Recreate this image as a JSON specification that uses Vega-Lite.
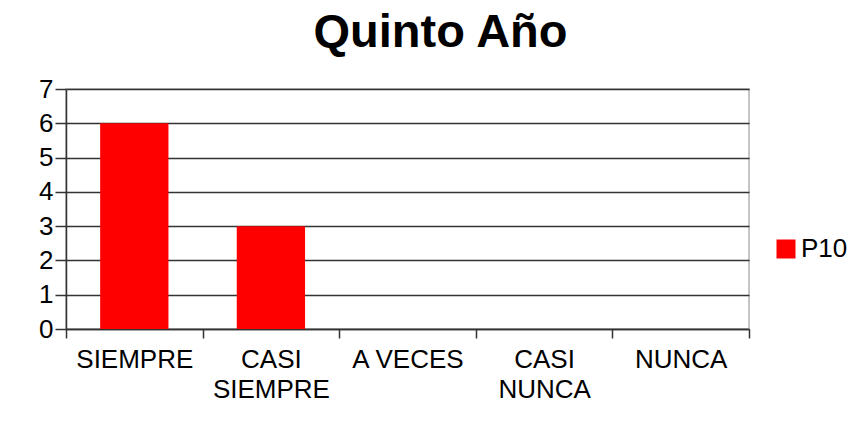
{
  "$schema": "https://vega.github.io/schema/vega-lite/v6.json",
  "autosize": {"type": "none"},
  "width": 683,
  "height": 240,
  "padding": {"left": 66, "top": 89, "right": 113, "bottom": 97},
  "background": "white",
  "title": {
    "text": "Quinto Año",
    "font": "Liberation Sans",
    "fontSize": 47,
    "fontWeight": "bold",
    "color": "#000000",
    "anchor": "middle",
    "frame": "group",
    "dx": 33,
    "offset": 19
  },
  "data": {
    "values": [
      {"categoria": "SIEMPRE", "serie": "P10", "valor": 6},
      {"categoria": "CASI SIEMPRE", "serie": "P10", "valor": 3},
      {"categoria": "A VECES", "serie": "P10", "valor": 0},
      {"categoria": "CASI NUNCA", "serie": "P10", "valor": 0},
      {"categoria": "NUNCA", "serie": "P10", "valor": 0}
    ]
  },
  "mark": {"type": "bar", "color": "#ff0000", "width": {"band": 0.5}},
  "encoding": {
    "x": {
      "field": "categoria",
      "type": "nominal",
      "sort": null,
      "scale": {"paddingInner": 0, "paddingOuter": 0},
      "axis": {
        "title": null,
        "labelAngle": 0,
        "labelFont": "Liberation Sans",
        "labelFontSize": 26,
        "labelColor": "#000000",
        "labelPadding": 8,
        "labelLineHeight": 30,
        "labelExpr": "datum.label == 'CASI SIEMPRE' ? ['CASI','SIEMPRE'] : datum.label == 'CASI NUNCA' ? ['CASI','NUNCA'] : datum.label",
        "tickBand": "extent",
        "tickSize": 9,
        "tickColor": "#333333",
        "tickWidth": 1.5,
        "domainColor": "#333333",
        "domainWidth": 1.5,
        "grid": false
      }
    },
    "y": {
      "field": "valor",
      "type": "quantitative",
      "scale": {"domain": [0, 7], "nice": false},
      "axis": {
        "title": null,
        "values": [0, 1, 2, 3, 4, 5, 6, 7],
        "labelFont": "Liberation Sans",
        "labelFontSize": 26,
        "labelColor": "#000000",
        "labelPadding": 2,
        "tickSize": 11,
        "tickColor": "#333333",
        "tickWidth": 1.5,
        "domainColor": "#333333",
        "domainWidth": 1.5,
        "grid": true,
        "gridColor": "#333333",
        "gridWidth": 1.5
      }
    },
    "fill": {
      "field": "serie",
      "type": "nominal",
      "scale": {"range": ["#ff0000"]},
      "legend": {
        "title": null,
        "orient": "none",
        "legendX": 707,
        "legendY": 147,
        "symbolType": "square",
        "symbolSize": 361,
        "symbolStrokeWidth": 0,
        "labelFont": "Liberation Sans",
        "labelFontSize": 26,
        "labelColor": "#000000",
        "labelOffset": 2
      }
    }
  },
  "config": {
    "view": {"stroke": "#b3b3b3", "strokeWidth": 1.5}
  }
}
